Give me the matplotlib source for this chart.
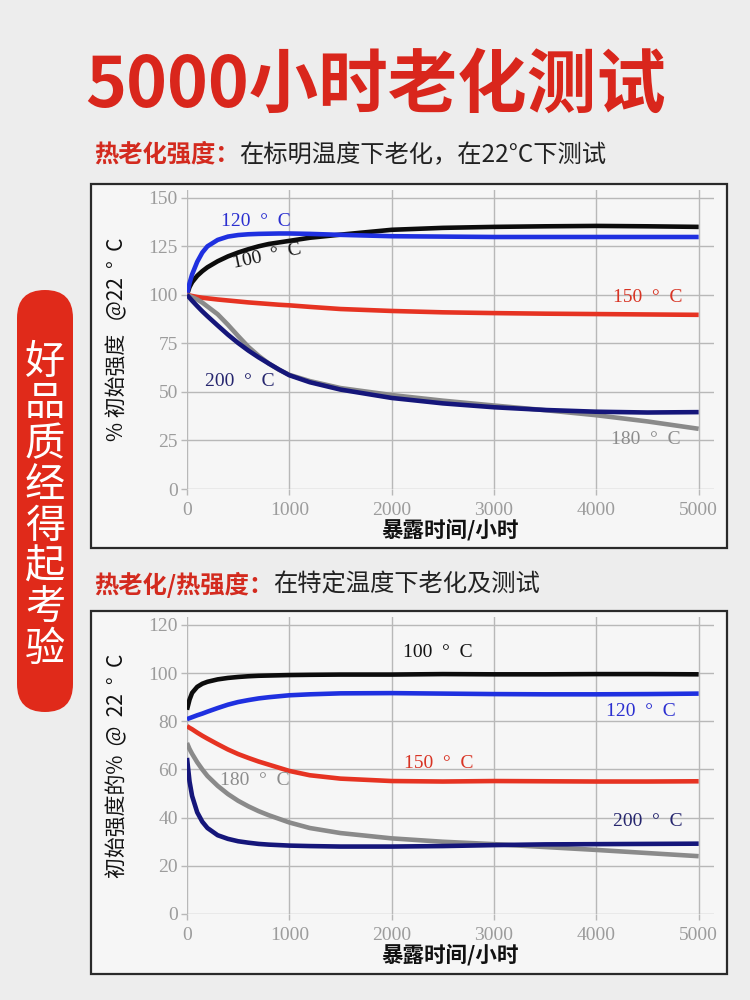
import matplotlib
matplotlib.use("Agg")
import matplotlib.pyplot as plt
from matplotlib.patches import Rectangle, FancyBboxPatch


# ==========================
# Data
# ==========================

title_text = "5000小时老化测试"
banner_text = "好品质经得起考验"

sub1_red = "热老化强度："
sub1_black = "在标明温度下老化，在22°C下测试"
sub2_red = "热老化/热强度："
sub2_black = "在特定温度下老化及测试"

xlabel_text = "暴露时间/小时"
ylabel_1 = "% 初始强度   @22  °  C"
ylabel_2 = "初始强度的%  @  22  °  C"

x_ticks = [0, 1000, 2000, 3000, 4000, 5000]
y_ticks_1 = [0, 25, 50, 75, 100, 125, 150]
y_ticks_2 = [0, 20, 40, 60, 80, 100, 120]

# panel 1: aged at the rated temperature, tested at 22 C
hours_1 = [0, 25, 50, 100, 150, 200, 300, 400, 500, 600, 700, 800, 900,
           1000, 1200, 1500, 2000, 2500, 3000, 3500, 4000, 4500, 5000]
t100_1 = [100, 104, 106.5, 109.8, 112.2, 114.2, 117.3, 119.8, 121.8, 123.5,
          125.0, 126.2, 127.0, 127.8, 129.4, 131.0, 133.5, 134.5, 135.0,
          135.3, 135.5, 135.3, 135.0]
t120_1 = [100, 106, 110.5, 117, 121.8, 125, 128.3, 130, 130.8, 131.2, 131.4,
          131.5, 131.6, 131.6, 131.4, 130.9, 130.2, 130.0, 129.8, 129.8,
          129.8, 129.8, 129.8]
t150_1 = [100, 99.7, 99.4, 98.9, 98.5, 98.2, 97.6, 97.1, 96.6, 96.1, 95.7,
          95.3, 94.9, 94.6, 93.8, 92.7, 91.7, 91.0, 90.6, 90.3, 90.1, 89.9,
          89.7]
t180_1 = [100, 99.4, 98.8, 97.6, 96.0, 94.0, 90.0, 84.6, 78.8, 73.2, 68.6,
          64.6, 61.4, 58.8, 55.6, 52.0, 48.4, 45.5, 43.0, 40.6, 38.0, 34.8,
          31.0]
t200_1 = [100, 98.5, 97, 94.2, 91.5, 89, 84.2, 79.5, 75.2, 71.3, 67.8, 64.6,
          61.5, 58.6, 55.0, 51.2, 46.9, 44.1, 42.1, 40.7, 39.8, 39.4, 39.6]

# panel 2: aged and tested at the given temperature
hours_2 = [0, 25, 50, 100, 150, 200, 300, 400, 500, 600, 700, 800, 1000,
           1200, 1500, 2000, 2500, 3000, 3500, 4000, 4500, 5000]
t100_2 = [84.8, 89, 91.8, 94.3, 95.6, 96.4, 97.4, 98.0, 98.4, 98.7, 98.9,
          99.0, 99.2, 99.3, 99.4, 99.4, 99.6, 99.5, 99.5, 99.6, 99.6, 99.5]
t120_2 = [80.9, 81.3, 81.7, 82.5, 83.2, 84.0, 85.5, 86.9, 88.0, 88.8, 89.5,
          90.0, 90.8, 91.2, 91.6, 91.7, 91.5, 91.3, 91.2, 91.2, 91.3, 91.5]
t150_2 = [78.0, 77.3, 76.7, 75.3, 74.0, 72.8, 70.5, 68.3, 66.4, 64.8, 63.3,
          62.0, 59.4, 57.6, 56.2, 55.2, 55.0, 55.2, 55.1, 55.0, 55.0, 55.1]
t180_2 = [71.0, 68.5, 66.5, 63.0, 60.0, 57.3, 53.2, 49.8, 47.0, 44.7, 42.7,
          41.0, 38.0, 35.7, 33.6, 31.4, 30.0, 29.0, 27.8, 26.6, 25.3, 24.0]
t200_2 = [64.8, 55.0, 49.0, 42.2, 38.3, 35.7, 32.7, 31.2, 30.2, 29.6, 29.1,
          28.8, 28.4, 28.2, 28.0, 28.0, 28.2, 28.6, 28.9, 29.0, 29.1, 29.2]

series_names = ["100  °  C", "120  °  C", "150  °  C", "180  °  C", "200  °  C"]
line_colors = ["#0c0c0c", "#1f30e0", "#e63322", "#8a8a8a", "#15167a"]
text_colors = ["#141414", "#2b2fd0", "#d83424", "#8c8c8c", "#26266e"]

# label anchor points (hours, value) and rotation per panel
labels_1 = [(780, 119.8, 12), (672, 138, 0), (4503, 98.5, 0),
            (4483, 25.3, 0), (517, 55.3, 0)]
labels_2 = [(2456, 108.4, 0), (4434, 83.9, 0), (2456, 62.3, 0),
            (663, 55.6, 0), (4502, 38.2, 0)]


# ==========================
# Style
# ==========================

cjk = ["Noto Sans CJK SC", "DejaVu Sans"]
serif = ["Liberation Serif", "DejaVu Serif"]
plt.rcParams["font.family"] = cjk

red = "#d9261c"
grid_gray = "#b8b8b8"
tick_gray = "#9c9c9c"

fig = plt.figure(figsize=(7.5, 10), dpi=100)
fig.patch.set_facecolor("#ededed")

# pixel overlay for titles, boxes and banner
bg = fig.add_axes([0, 0, 1, 1], zorder=0)
bg.set_xlim(0, 750)
bg.set_ylim(1000, 0)
bg.axis("off")

bg.text(376, 86, title_text, ha="center", va="center",
        fontsize=50, fontweight="bold", color=red)

for y0, red_part, black_part in [(155, sub1_red, sub1_black),
                                 (585, sub2_red, sub2_black)]:
    t = bg.text(94, y0, red_part, ha="left", va="center",
                fontsize=17.5, fontweight="bold", color="#d32a1e")
    bg.annotate(black_part, xy=(1, 0.5), xycoords=t,
                xytext=(0, 0), textcoords="offset points",
                ha="left", va="center", fontsize=17.5, color="#222222")

# panel boxes
for top, bottom in [(184, 548), (611, 974)]:
    bg.add_patch(Rectangle((91, top), 636, bottom - top,
                           facecolor="#f6f6f6", edgecolor="#2a2a2a",
                           linewidth=1.6))

# side banner
bg.add_patch(FancyBboxPatch((17, 290), 56, 422,
                            boxstyle="round,pad=0,rounding_size=28",
                            facecolor="#e02a1a", edgecolor="none"))
for i, ch in enumerate(banner_text):
    bg.text(45, 362 + i * 41.1, ch, ha="center", va="center",
            fontsize=29, color="white")


# ==========================
# Charts
# ==========================

def draw_panel(rect, hours, curves, ylim, yticks, ylabel, labels):
    ax = fig.add_axes(rect, zorder=2)
    ax.set_facecolor("none")

    for vals, c in zip(curves, line_colors):
        ax.plot(hours, vals, color=c, linewidth=3.3,
                solid_capstyle="butt", solid_joinstyle="round", zorder=3)

    for (lx, ly, rot), name, c in zip(labels, series_names, text_colors):
        ax.text(lx, ly, name, ha="center", va="center", rotation=rot,
                fontsize=14, color=c, family=serif, zorder=4)

    ax.set_xlim(0, 5150)
    ax.set_ylim(*ylim)
    ax.set_xticks(x_ticks)
    ax.set_yticks(yticks)
    ax.grid(True, color=grid_gray, linewidth=1.0)
    ax.set_axisbelow(True)
    for s in ax.spines.values():
        s.set_visible(False)

    ax.tick_params(length=4.5, width=1, color=grid_gray,
                   labelcolor=tick_gray, labelsize=14)
    ax.tick_params(axis="y", pad=2)
    ax.tick_params(axis="x", pad=5)
    for lab in ax.get_xticklabels() + ax.get_yticklabels():
        lab.set_family(serif)

    ax.set_xlabel(xlabel_text, fontsize=15.5, fontweight="bold",
                  color="#111111", va="center")
    ax.xaxis.set_label_coords(0.499, -0.137)
    ax.set_ylabel(ylabel, fontsize=15, color="#111111", va="center")
    ax.yaxis.set_label_coords(-0.133, 0.5)
    return ax


draw_panel([0.2493, 0.511, 0.7027, 0.299], hours_1,
           [t100_1, t120_1, t150_1, t180_1, t200_1],
           (0, 154), y_ticks_1, ylabel_1, labels_1)

draw_panel([0.2493, 0.086, 0.7027, 0.297], hours_2,
           [t100_2, t120_2, t150_2, t180_2, t200_2],
           (0, 123.3), y_ticks_2, ylabel_2, labels_2)


fig.savefig("out.png", dpi=100, facecolor=fig.get_facecolor())
